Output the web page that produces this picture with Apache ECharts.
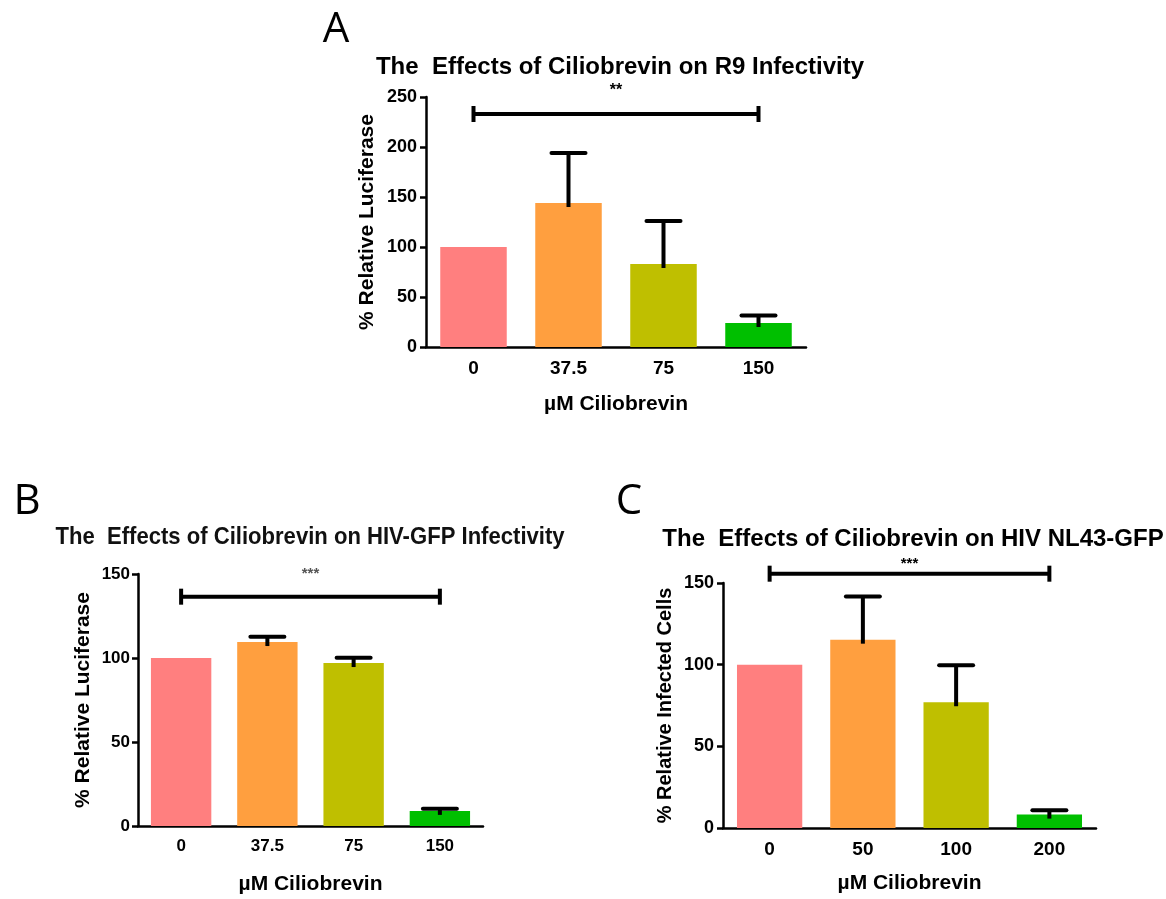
<!DOCTYPE html>
<html><head><meta charset="utf-8">
<script src="https://cdn.jsdelivr.net/npm/echarts@6/dist/echarts.min.js"></script>
<style>html,body{margin:0;padding:0;background:#fff}#c{width:1166px;height:899px}</style>
</head><body><div id="c"></div>
<script>
// Panel A
const catsA = ['0', '37.5', '75', '150'];
const meanA = [100, 144, 83, 24];
const errTopA = [100, 194, 126, 31.5];
const sigA = {from: 0, to: 3, y: 233, label: '**', labelY: 256};
const yTicksA = {min: 0, max: 250, interval: 50};
// Panel B
const catsB = ['0', '37.5', '75', '150'];
const meanB = [100, 109.5, 97, 9];
const errTopB = [100, 112.6, 100.1, 10.3];
const sigB = {from: 0, to: 3, y: 136.5, label: '***', labelY: 150};
const yTicksB = {min: 0, max: 150, interval: 50};
// Panel C
const catsC = ['0', '50', '100', '200'];
const meanC = [100, 115.3, 77, 8.2];
const errTopC = [100, 141.8, 99.6, 10.8];
const sigC = {from: 0, to: 3, y: 155.7, label: '***', labelY: 162};
const yTicksC = {min: 0, max: 150, interval: 50};

const colors = ['#FF7F7F', '#FF9F3F', '#BFBF00', '#00BF00'];

const chart = echarts.init(document.getElementById('c'), null, {renderer: 'canvas'});

function grid(i) {
  return [
    {left: 426, width: 380, top: 97, height: 250},
    {left: 138, width: 345, top: 574, height: 252},
    {left: 723, width: 373, top: 583, height: 245}
  ][i];
}
const fontMain = 'Liberation Sans, Arial, sans-serif';
function xAxis(i, cats, tickSize, gap) {
  return {
    type: 'category', gridIndex: i, data: cats,
    axisLine: {lineStyle: {color: '#000', width: 2.5}},
    axisTick: {alignWithLabel: true, length: 7, lineStyle: {color: '#000', width: 2.5}},
    axisLabel: {color: '#000', fontWeight: 'bold', fontSize: tickSize, fontFamily: fontMain, margin: 12},
    name: 'µM Ciliobrevin', nameLocation: 'middle', nameGap: gap,
    nameTextStyle: {color: '#000', fontWeight: 'bold', fontSize: 21, fontFamily: fontMain}
  };
}
function yAxis(i, t, name, tickSize, gap, margin, nameSize) {
  return {
    type: 'value', gridIndex: i, min: t.min, max: t.max, interval: t.interval,
    splitLine: {show: false},
    axisLine: {show: true, lineStyle: {color: '#000', width: 2.5}},
    axisTick: {show: true, length: 6, lineStyle: {color: '#000', width: 2.5}},
    axisLabel: {color: '#000', fontWeight: 'bold', fontSize: tickSize, fontFamily: fontMain, margin: margin},
    name: name, nameLocation: 'middle', nameGap: gap, nameRotate: 90,
    nameTextStyle: {color: '#000', fontWeight: 'bold', fontSize: nameSize, fontFamily: fontMain}
  };
}
function bars(i, vals) {
  return {
    type: 'bar', xAxisIndex: i, yAxisIndex: i, barWidth: '70%',
    data: vals.map((v, k) => ({value: v, itemStyle: {color: colors[k]}})),
    z: 2
  };
}
function errs(i, mean, top) {
  return {
    type: 'custom', xAxisIndex: i, yAxisIndex: i, z: 3, clip: false,
    data: mean.map((m, k) => [k, m, top[k]]),
    renderItem: function (params, api) {
      const x = api.value(0);
      const m = api.value(1), t = api.value(2);
      if (t <= m) return null;
      const p0 = api.coord([x, m]);
      const p1 = api.coord([x, t]);
      const hw = 17;
      return {
        type: 'group',
        children: [
          {type: 'line', shape: {x1: p0[0], y1: p0[1] + 4, x2: p1[0], y2: p1[1]}, style: {stroke: '#000', lineWidth: 4}},
          {type: 'line', shape: {x1: p1[0] - hw, y1: p1[1], x2: p1[0] + hw, y2: p1[1]}, style: {stroke: '#000', lineWidth: 4, lineCap: 'round'}}
        ]
      };
    }
  };
}
function sig(i, s, starColor, starSize) {
  return {
    type: 'custom', xAxisIndex: i, yAxisIndex: i, z: 4, clip: false,
    data: [[s.from, s.to, s.y, s.labelY]],
    renderItem: function (params, api) {
      const a = api.coord([api.value(0), api.value(2)]);
      const b = api.coord([api.value(1), api.value(2)]);
      const l = api.coord([(api.value(0) + api.value(1)) / 2, api.value(3)]);
      return {
        type: 'group',
        children: [
          {type: 'line', shape: {x1: a[0], y1: a[1], x2: b[0], y2: b[1]}, style: {stroke: '#000', lineWidth: 4}},
          {type: 'line', shape: {x1: a[0], y1: a[1] - 8, x2: a[0], y2: a[1] + 8}, style: {stroke: '#000', lineWidth: 4}},
          {type: 'line', shape: {x1: b[0], y1: b[1] - 8, x2: b[0], y2: b[1] + 8}, style: {stroke: '#000', lineWidth: 4}},
          {type: 'text', style: {text: s.label, x: (a[0] + b[0]) / 2, y: l[1], align: 'center', verticalAlign: 'middle', fill: starColor, font: 'bold ' + starSize + 'px Liberation Sans, Arial'}}
        ]
      };
    }
  };
}
const letterStyle = {fontSize: 42, fontWeight: 'normal', color: '#000', fontFamily: 'Open Sans, sans-serif'};
chart.setOption({
  animation: false,
  title: [
    {text: 'A', left: 331, top: 25, textAlign: 'center', textVerticalAlign: 'middle', textStyle: letterStyle},
    {text: 'B', left: 22, top: 497, textAlign: 'center', textVerticalAlign: 'middle', textStyle: letterStyle},
    {text: 'C', left: 624, top: 497, textAlign: 'center', textVerticalAlign: 'middle', textStyle: letterStyle},
    {text: 'The  Effects of Ciliobrevin on R9 Infectivity', left: 615, top: 62, textAlign: 'center', textVerticalAlign: 'middle', textStyle: {fontSize: 24, fontWeight: 'bold', color: '#000', fontFamily: fontMain}},
    {text: 'The  Effects of Ciliobrevin on HIV NL43-GFP', left: 908, top: 534, textAlign: 'center', textVerticalAlign: 'middle', textStyle: {fontSize: 24, fontWeight: 'bold', color: '#000', fontFamily: fontMain}}
  ],
  graphic: [
    {type: 'text', x: 310, y: 537, scaleX: 0.92, scaleY: 1,
     style: {text: 'The  Effects of Ciliobrevin on HIV-GFP Infectivity', align: 'center', verticalAlign: 'middle', fill: '#111', font: 'bold 24px Liberation Sans, Arial, sans-serif'}}
  ],
  grid: [grid(0), grid(1), grid(2)],
  xAxis: [xAxis(0, catsA, 19, 47), xAxis(1, catsB, 17, 48), xAxis(2, catsC, 19, 45)],
  yAxis: [yAxis(0, yTicksA, '% Relative Luciferase', 18, 48, 9, 21), yAxis(1, yTicksB, '% Relative Luciferase', 17, 44, 8, 21), yAxis(2, yTicksC, '% Relative Infected Cells', 18, 48, 9, 20)],
  series: [
    bars(0, meanA), errs(0, meanA, errTopA), sig(0, sigA, '#000', 16),
    bars(1, meanB), errs(1, meanB, errTopB), sig(1, sigB, '#555', 15),
    bars(2, meanC), errs(2, meanC, errTopC), sig(2, sigC, '#000', 15)
  ]
});
</script></body></html>
